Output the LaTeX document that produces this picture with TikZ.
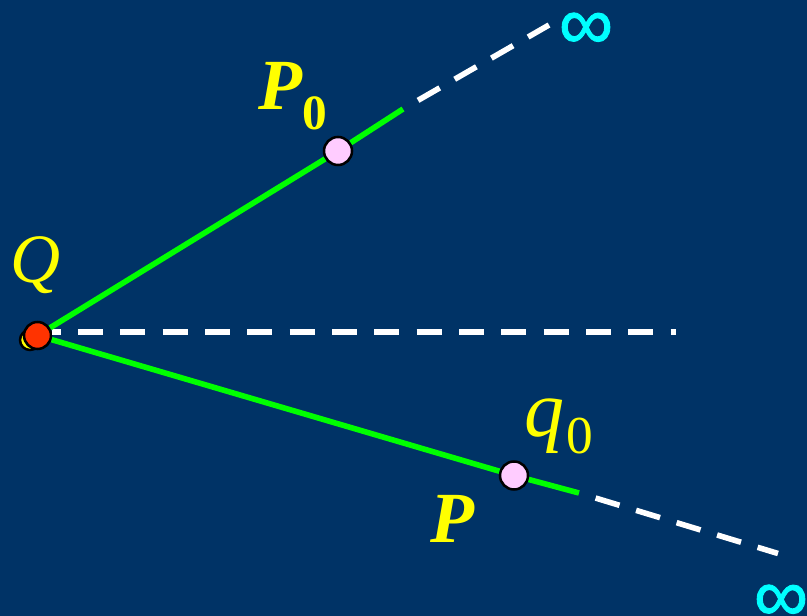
\documentclass[tikz,border=0pt]{standalone}
\usepackage{fontspec}
\setmainfont{Liberation Serif}
\newfontfamily\inffont[FakeBold=1.2]{Liberation Sans}
\usetikzlibrary{calc}
\definecolor{navybg}{RGB}{0,51,102}
\definecolor{raygreen}{RGB}{0,255,0}
\definecolor{lblyellow}{RGB}{255,255,0}
\definecolor{infcyan}{RGB}{0,255,255}
\definecolor{dotpink}{RGB}{255,204,255}
\definecolor{dotred}{RGB}{255,51,0}
\tikzset{
  ray/.style={color=raygreen, line width=4.2pt},
  farray/.style={color=white, line width=4.2pt, dash pattern=on 18.75pt off 13pt},
  dotpt/.style={circle, draw=black, line width=1.9pt, inner sep=0pt, minimum size=21pt},
  lbl/.style={text=lblyellow, inner sep=0pt},
  inflbl/.style={text=infcyan, inner sep=0pt, font=\inffont\fontsize{57}{57}\selectfont}
}

\begin{document}
\begin{tikzpicture}[x=0.75pt,y=0.75pt,yscale=-1,xscale=1]
%background
\fill [navybg] (0,0) rectangle (807,616);
\useasboundingbox (0,0) rectangle (807,616);

%Points
\node [dotpt, fill=lblyellow, minimum size=15pt] (Qy) at (30,340) {};
\node [dotpt, fill=dotred, minimum size=20.25pt] (Q) at (37.5,335.5) {};
\node [dotpt, fill=dotpink] (P0) at (338,151) {};
\node [dotpt, fill=dotpink] (q0) at (514,475.5) {};
\coordinate (g1) at (403,109);
\coordinate (g2) at (579,493);
\coordinate (d1) at (549,25);
\coordinate (d2) at (778,553.5);
\coordinate (hend) at (676,332);

%Straight Lines
\draw [farray, dash phase=12.4pt] (Q.east |- hend) -- (hend);
\draw [ray] (Q) -- (P0) -- (g1);
\draw [ray] (Q) -- (q0) -- (g2);
\draw [farray, dash phase=18.75pt] (g1) -- (d1);
\draw [farray, dash phase=18.75pt] (g2) -- (d2);

% Text Node
\node [lbl, anchor=base west] (lQ) at (10,283) {\fontsize{52}{52}\selectfont\itshape Q};
% Text Node
\node [lbl, anchor=base west] (lP0) at (258,110) {\fontsize{54}{54}\selectfont\bfseries\itshape P\raisebox{-15pt}{\fontsize{37}{37}\selectfont\upshape 0}};
% Text Node
\node [lbl, anchor=base west] (lq0) at (524,436) {\fontsize{60}{60}\selectfont\itshape q\kern2pt\raisebox{-13pt}{\fontsize{40}{40}\selectfont\upshape 0}};
% Text Node
\node [lbl, anchor=base west] (lP) at (430,542) {\fontsize{54}{54}\selectfont\bfseries\itshape P};
% Text Node
\node [inflbl] (inf1) at (586,31) {∞};
% Text Node
\node [inflbl] (inf2) at (781,603) {∞};

\end{tikzpicture}
\end{document}
